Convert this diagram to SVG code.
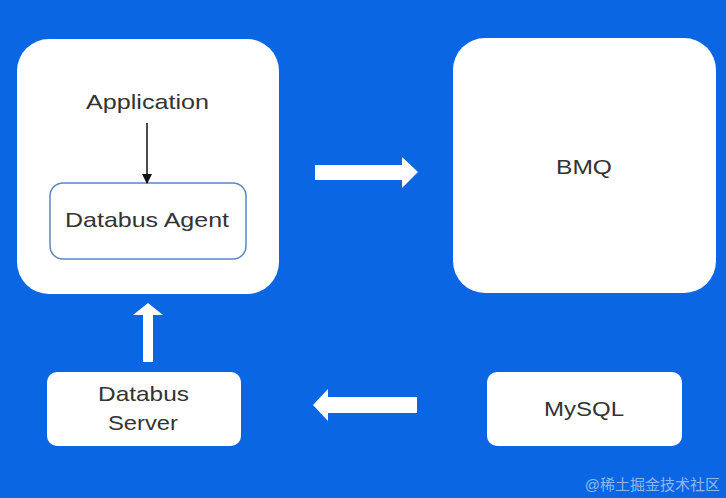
<svg xmlns="http://www.w3.org/2000/svg" width="726" height="498" viewBox="0 0 726 498">
<style>
.box{fill:#ffffff}
.t{font-family:"Liberation Sans",Arial,sans-serif;font-size:21px;fill:#333333;text-anchor:middle}
.fat{fill:#ffffff}
</style>
<defs>
<marker id="ah" markerWidth="10" markerHeight="10" refX="9" refY="5" orient="auto" markerUnits="userSpaceOnUse">
<path d="M0,0 L10,5 L0,10 Z" fill="#111111"/>
</marker>
</defs>
<rect x="0" y="0" width="726" height="498" fill="#0b66e3"/>
<g id="app-node">
<rect class="box" x="17" y="39" width="262" height="255" rx="32"/>
<text class="t" x="147.5" y="109" textLength="123" lengthAdjust="spacingAndGlyphs">Application</text>
</g>
<g id="agent-node">
<rect x="50" y="183" width="196" height="76" rx="13" fill="#ffffff" stroke="#5b87c2" stroke-width="1.5"/>
<text class="t" x="147" y="227" textLength="164" lengthAdjust="spacingAndGlyphs">Databus Agent</text>
</g>
<g id="bmq-node">
<rect class="box" x="453" y="38" width="263" height="255" rx="32"/>
<text class="t" x="584" y="174" textLength="56" lengthAdjust="spacingAndGlyphs">BMQ</text>
</g>
<g id="server-node">
<rect class="box" x="47" y="372" width="194" height="74" rx="10"/>
<text class="t" x="143.5" y="401" textLength="91" lengthAdjust="spacingAndGlyphs">Databus</text>
<text class="t" x="143" y="430" textLength="70" lengthAdjust="spacingAndGlyphs">Server</text>
</g>
<g id="mysql-node">
<rect class="box" x="487" y="372" width="195" height="74" rx="10"/>
<text class="t" x="584" y="416" textLength="80" lengthAdjust="spacingAndGlyphs">MySQL</text>
</g>
<g id="connectors">
<line x1="147" y1="123" x2="147" y2="183" stroke="#111111" stroke-width="1.5" marker-end="url(#ah)"/>
<path class="fat" d="M315,165 L402,165 L402,157 L418,172 L402,188 L402,180 L315,180 Z"/>
<path class="fat" d="M143,362 L143,315 L133,315 L148,303 L163,315 L153,315 L153,362 Z"/>
<path class="fat" d="M417,397 L328,397 L328,389 L313,405 L328,421 L328,413 L417,413 Z"/>
</g>
<text x="720" y="490" font-family="'Liberation Sans','Noto Sans CJK SC',sans-serif" font-size="15" fill="#ffffff" fill-opacity="0.55" text-anchor="end">@稀土掘金技术社区</text>
</svg>
